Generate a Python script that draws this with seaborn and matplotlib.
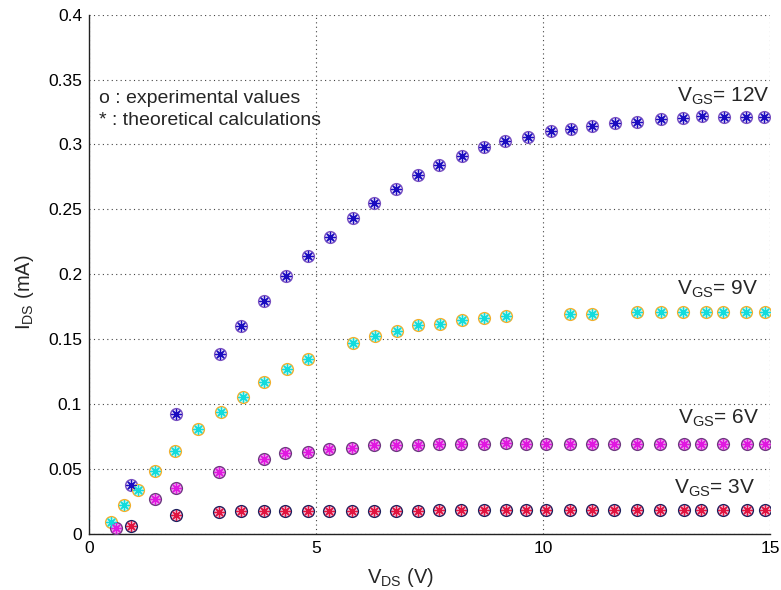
import matplotlib
matplotlib.use("Agg")
import matplotlib.pyplot as plt
import seaborn as sns
import numpy as np

# Drain current I_DS (mA) against drain voltage V_DS (V) for four gate voltages
vds_12 = [0.93, 1.92, 2.89, 3.35, 3.85, 4.35, 4.82, 5.31, 5.81, 6.27, 6.76, 7.24, 7.71, 8.21,
          8.70, 9.17, 9.66, 10.18, 10.61, 11.09, 11.58, 12.08, 12.59, 13.09, 13.51, 13.98, 14.47, 14.86]
ids_12 = [0.0376, 0.0924, 0.139, 0.1603, 0.1794, 0.1986, 0.214, 0.2290, 0.2435, 0.2546, 0.266, 0.2764,
          0.2841, 0.2911, 0.2978, 0.3026, 0.3057, 0.3106, 0.3121, 0.3145, 0.3167, 0.3175, 0.3193, 0.3200,
          0.3219, 0.3213, 0.3209, 0.3213]

vds_9 = [0.475, 0.78, 1.08, 1.46, 1.905, 2.41, 2.91, 3.39, 3.86, 4.36, 4.82, 5.81, 6.30, 6.78, 7.25,
         7.73, 8.21, 8.70, 9.19, 10.59, 11.09, 12.08, 12.59, 13.09, 13.59, 13.97, 14.48, 14.88]
ids_9 = [0.0091, 0.0222, 0.0337, 0.0486, 0.064, 0.0805, 0.094, 0.1054, 0.117, 0.1267, 0.1347, 0.1472,
         0.1528, 0.1565, 0.1606, 0.1621, 0.1647, 0.166, 0.1676, 0.1696, 0.1696, 0.1706, 0.1706, 0.1706,
         0.1706, 0.1706, 0.1706, 0.1706]

vds_6 = [0.6, 1.46, 1.91, 2.86, 3.85, 4.32, 4.82, 5.29, 5.79, 6.27, 6.76, 7.24, 7.71, 8.2, 8.69, 9.18,
         9.63, 10.07, 10.59, 11.07, 11.56, 12.08, 12.57, 13.1, 13.48, 13.96, 14.5, 14.9]
ids_6 = [0.005, 0.0273, 0.0355, 0.0478, 0.0574, 0.062, 0.0633, 0.0653, 0.0663, 0.0684, 0.0684, 0.0684,
         0.0692, 0.0692, 0.0692, 0.0700, 0.0692, 0.0692, 0.0692, 0.0692, 0.0692, 0.0692, 0.0692, 0.0692,
         0.0692, 0.0692, 0.0692, 0.0692]

vds_3 = [0.93, 1.91, 2.86, 3.35, 3.85, 4.32, 4.82, 5.29, 5.79, 6.27, 6.76, 7.24, 7.71, 8.2, 8.69, 9.18,
         9.63, 10.07, 10.59, 11.07, 11.56, 12.08, 12.57, 13.1, 13.48, 13.96, 14.5, 14.9]
ids_3 = [0.006, 0.0147, 0.017, 0.0178, 0.0178, 0.0180, 0.0180, 0.0180, 0.0180, 0.0180, 0.0180, 0.0180,
         0.0182, 0.0182, 0.0182, 0.0185, 0.0187, 0.0187, 0.0187, 0.0187, 0.0187, 0.0187, 0.0187, 0.0187,
         0.0187, 0.0187, 0.0187, 0.0187]

vgs_labels = ["= 12V", "= 9V", "= 6V", "= 3V"]
x_ticks = [0, 5, 10, 15]
y_ticks = [0, 0.05, 0.1, 0.15, 0.2, 0.25, 0.3, 0.35, 0.4]

sns.set_style("white")
plt.rcParams["font.family"] = ["Liberation Sans", "DejaVu Sans"]
plt.rcParams["mathtext.fontset"] = "custom"
plt.rcParams["mathtext.rm"] = "Liberation Sans"
plt.rcParams["mathtext.it"] = "Liberation Sans"

W, H = 781, 590
fig = plt.figure(figsize=(W / 100, H / 100), dpi=100, facecolor="white")
ax = fig.add_axes([89 / W, (H - 534) / H, (770 - 89) / W, (534 - 14.6) / H])

# (edge colour of "o", face tint of "o", colour of "*")
styles = [
    ("#7850c0", "#e6dcf6", "#1a0cc0"),
    ("#f0b030", "#c4f6f2", "#12dcdc"),
    ("#6e3a80", "#eea0ee", "#e018e0"),
    ("#20205e", "#f6c0d6", "#e01440"),
]
series = [(vds_12, ids_12), (vds_9, ids_9), (vds_6, ids_6), (vds_3, ids_3)]

asterisk = (8, 2, 0)
for (xv, yv), (edge, face, star) in zip(series, styles):
    sns.scatterplot(x=xv, y=yv, ax=ax, marker="o", s=72, facecolor=face,
                    edgecolor=edge, linewidth=1.0, zorder=3, legend=False)
    sns.scatterplot(x=xv, y=yv, ax=ax, marker=asterisk, s=48, color=star,
                    linewidth=0.9, zorder=4, legend=False)

ax.set_xlim(0, 15)
ax.set_ylim(0, 0.4)
ax.set_xticks(x_ticks)
ax.set_xticklabels([str(t) for t in x_ticks])
ax.set_yticks(y_ticks)
ax.set_yticklabels(["0", "0.05", "0.1", "0.15", "0.2", "0.25", "0.3", "0.35", "0.4"])

ax.grid(True, color="#444444", linestyle=(0, (1, 3)), linewidth=0.8)
ax.set_axisbelow(True)
for side in ("top", "right"):
    ax.spines[side].set_visible(False)
for side in ("left", "bottom"):
    ax.spines[side].set_color("#222222")
    ax.spines[side].set_linewidth(1.0)
ax.tick_params(direction="in", length=4, width=0.9, labelsize=12.5, pad=5,
               colors="#222222", labelcolor="black")

ax.set_xlabel(r"V$_{\rm DS}$ (V)", fontsize=14.5)
ax.set_ylabel(r"I$_{\rm DS}$ (mA)", fontsize=14.5)
ax.xaxis.set_label_coords(0.458, -0.062)
ax.yaxis.set_label_coords(-0.078, 0.465)

ax.text(0.22, 0.3317, "o : experimental values", fontsize=14, va="baseline", ha="left")
ax.text(0.22, 0.315, "* : theoretical calculations", fontsize=14, va="baseline", ha="left")

label_pos = [(12.95, 0.333), (12.95, 0.184), (12.98, 0.0851), (12.88, 0.0307)]
for (lx, ly), lab in zip(label_pos, vgs_labels):
    ax.text(lx, ly, r"V$_{\rm GS}$" + lab, fontsize=15, va="baseline", ha="left",
            bbox=dict(facecolor="white", edgecolor="none", pad=0.5))

fig.savefig("out.png", dpi=100, facecolor="white")
